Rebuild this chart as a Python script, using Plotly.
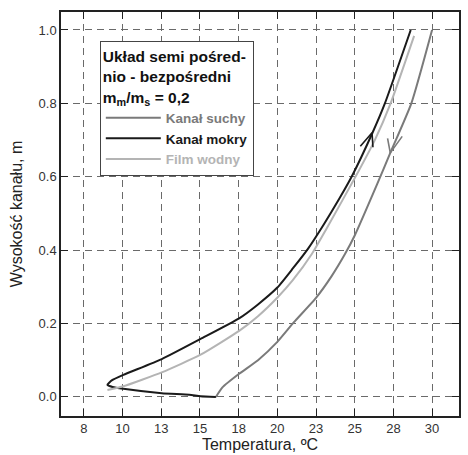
import plotly.graph_objects as go

# Kanał suchy (dry channel)
dry_temp = [16.03, 16.45, 17.53, 18.75, 20.0, 21.06, 22.5, 23.52, 24.38, 25.0, 26.45, 27.3, 28.66, 30.0]
dry_height = [0.0, 0.026, 0.063, 0.1, 0.15, 0.203, 0.27, 0.33, 0.39, 0.44, 0.58, 0.665, 0.8, 1.0]

# Kanał mokry (wet channel) - runs from the bottom joint round the tip and up
wet_temp = [16.03, 15.04, 14.31, 12.53, 10.05, 9.35, 9.02, 9.3, 10.05, 12.53, 15.04,
            17.53, 18.75, 20.0, 21.0, 22.0, 23.0, 24.0, 24.8, 26.15, 26.95, 28.62]
wet_height = [0.0, 0.002, 0.006, 0.01, 0.022, 0.027, 0.033, 0.045, 0.06, 0.103, 0.158,
              0.214, 0.252, 0.298, 0.35, 0.405, 0.47, 0.54, 0.6, 0.72, 0.8, 1.0]

# Film wodny (water film)
film_temp = [9.02, 10.05, 12.53, 15.04, 17.53, 18.75, 20.01, 21.0, 22.24, 23.16, 25.05, 26.3, 27.32, 28.84]
film_height = [0.019, 0.029, 0.067, 0.115, 0.18, 0.22, 0.271, 0.318, 0.39, 0.457, 0.6, 0.7, 0.8, 0.984]

# flow-direction arrow tips (temperature, height)
wet_arrow_tip = (26.12, 0.72)
dry_arrow_tip = (27.3, 0.665)

x_ticks = [7.5, 10, 12.5, 15, 17.5, 20, 22.5, 25, 27.5, 30]
x_labels = ["8", "10", "13", "15", "18", "20", "23", "25", "28", "30"]
y_ticks = [0.0, 0.2, 0.4, 0.6, 0.8, 1.0]

DRY = "#7a7a7a"
WET = "#1a1a1a"
FILM = "#b4b4b4"

fig = go.Figure()

for xs, ys, col, label in [
    (dry_temp, dry_height, DRY, "Kanał suchy"),
    (wet_temp, wet_height, WET, "Kanał mokry"),
    (film_temp, film_height, FILM, "Film wodny"),
]:
    fig.add_trace(go.Scatter(
        x=xs, y=ys, mode="lines",
        line=dict(color=col, width=2, shape="spline", smoothing=0.5),
        name=f"<b><span style='color:{col}'>{label}</span></b>",
    ))

# open "V" arrowheads: two short wings drawn back from each tip (pixel offsets)
for tip, col, wings in [
    (wet_arrow_tip, WET, [(-13, 15), (1, 16)]),
    (dry_arrow_tip, DRY, [(-3, -16), (13, -18)]),
]:
    for ax, ay in wings:
        fig.add_annotation(
            x=tip[0], y=tip[1], xref="x", yref="y", ax=ax, ay=ay,
            text="", showarrow=True, arrowhead=0, arrowwidth=1.6, arrowcolor=col,
        )

axis_common = dict(
    showline=True, linecolor="#222", linewidth=1.5, mirror="ticks",
    ticks="inside", ticklen=7, tickcolor="#222", tickwidth=1,
    showgrid=True, gridcolor="#6a6a6a", gridwidth=1, griddash="7px,5px",
    zeroline=False, tickfont=dict(size=13, color="#333"),
)

fig.update_xaxes(
    range=[6.02, 31.74], tickvals=x_ticks, ticktext=x_labels,
    title=dict(text="Temperatura, ºC", font=dict(size=16, color="#222"), standoff=0),
    **axis_common,
)
fig.update_yaxes(
    range=[-0.052, 1.049], tickvals=y_ticks, tickformat=".1f",
    title=dict(text="Wysokość kanału, m", font=dict(size=16, color="#222"), standoff=12),
    **axis_common,
)

fig.update_layout(
    width=468, height=455,
    margin=dict(l=61, r=7, t=12, b=38),
    paper_bgcolor="white", plot_bgcolor="white",
    font=dict(family="Liberation Sans, Arial, sans-serif"),
    legend=dict(
        x=0.0975, y=0.928, xanchor="left", yanchor="top",
        bgcolor="white", bordercolor="#444", borderwidth=1,
        itemwidth=55, tracegroupgap=0,
        font=dict(size=13.5, color="#111"),
        title=dict(
            text="<b>Układ semi pośred-<br>nio - bezpośredni<br>m<sub>m</sub>/m<sub>s</sub> = 0,2</b>",
            font=dict(size=15.5, color="#111"), side="top",
        ),
    ),
    showlegend=True,
)

# the page body has a default 8px margin; drop it so the figure sits at the window corner
fig.write_html(
    "out.html",
    config={"displayModeBar": False},
    post_script="document.body.style.margin='0px';",
)
